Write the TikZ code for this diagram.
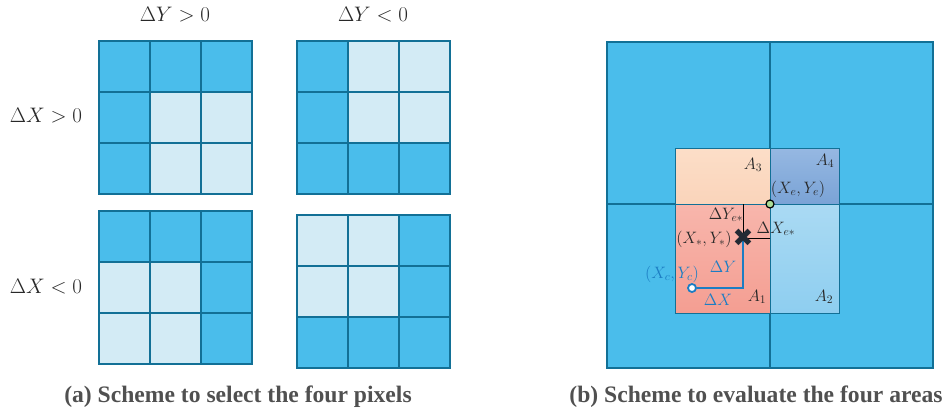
\RequirePackage{fix-cm}
\documentclass[tikz,border=0pt]{standalone}
\usepackage{fontspec}
\setmainfont{Liberation Serif}
\newfontfamily\symfont{DejaVu Sans}
\usetikzlibrary{positioning}

\definecolor{pixdark}{RGB}{74,189,235}
\definecolor{pixlight}{RGB}{211,235,245}
\definecolor{pixline}{RGB}{18,112,150}
\definecolor{labgray}{RGB}{40,40,40}
\definecolor{capgray}{RGB}{80,80,80}
\definecolor{pathblue}{RGB}{28,125,195}

% one 3x3 block of pixels, #1,#2 top left corner
\newcommand{\pixgrid}[3]{%
  \foreach \cl [count=\i from 0] in {#3} {
    \pgfmathtruncatemacro{\cc}{mod(\i,3)}
    \pgfmathtruncatemacro{\rr}{div(\i,3)}
    \filldraw[cell, fill=\cl] ({#1+51*\cc},{#2+51*\rr}) rectangle ++(51,51);
  }
}

\begin{document}
\begin{tikzpicture}[x=1pt, y=-1pt,
    cell/.style={draw=pixline, line width=1.2pt},
    head/.style={font=\fontsize{21}{25}\selectfont, text=labgray},
    lbl/.style={font=\fontsize{16.5}{19}\selectfont, text=labgray, inner sep=0pt},
    bluelbl/.style={lbl, text=pathblue},
    captext/.style={font=\fontsize{23.6}{28}\selectfont\bfseries, text=capgray},
    quad/.style={draw=pixline, line width=1pt}]
  \useasboundingbox (0,0) rectangle (948,418);

  % (a) the four cases
  \pixgrid{99}{41}{pixdark,pixdark,pixdark,pixdark,pixlight,pixlight,pixdark,pixlight,pixlight}
  \pixgrid{297}{41}{pixdark,pixlight,pixlight,pixdark,pixlight,pixlight,pixdark,pixdark,pixdark}
  \pixgrid{99}{211}{pixdark,pixdark,pixdark,pixlight,pixlight,pixdark,pixlight,pixlight,pixdark}
  \pixgrid{297}{215}{pixlight,pixlight,pixdark,pixlight,pixlight,pixdark,pixdark,pixdark,pixdark}

  \node[head] (dyp) at (175,15) {$\Delta Y > 0$};
  \node[head] (dyn) at (373,15) {$\Delta Y < 0$};
  \node[head] (dxp) at (46,116) {$\Delta X > 0$};
  \node[head] (dxn) at (46,287) {$\Delta X < 0$};

  % (b) the four areas
  \filldraw[fill=pixdark, draw=pixline, line width=2.2pt] (607,42) rectangle (933,368);
  \draw[pixline, line width=2.2pt] (770,42) -- (770,368) (607,204) -- (933,204);
  \shade[top color={rgb,255:red,252;green,222;blue,200}, bottom color={rgb,255:red,250;green,212;blue,186}] (675,148) rectangle (770,204);
  \shade[top color={rgb,255:red,150;green,184;blue,226}, bottom color={rgb,255:red,122;green,163;blue,214}] (770,148) rectangle (839,204);
  \shade[top color={rgb,255:red,248;green,182;blue,172}, bottom color={rgb,255:red,244;green,158;blue,146}] (675,204) rectangle (770,313);
  \shade[top color={rgb,255:red,170;green,218;blue,243}, bottom color={rgb,255:red,142;green,206;blue,240}] (770,204) rectangle (839,313);
  \draw[quad] (675,148) rectangle (839,313) (770,148) -- (770,313) (675,204) -- (839,204);

  \node[lbl] (a3) at (753,165) {$A_3$};
  \node[lbl] (a4) at (825,161) {$A_4$};
  \node[lbl] (a1) at (757,297) {$A_1$};
  \node[lbl] (a2) at (824,297) {$A_2$};

  % estimated point and the offsets to the pixel corner
  \coordinate (cor) at (770,204);
  \coordinate (xsp) at (743,238);
  \draw[black, line width=0.8pt] (xsp) -- (xsp |- cor);
  \draw[black, line width=0.8pt] (xsp) -- (cor |- xsp);
  \node[circle, draw=black, fill={rgb,255:red,170;green,220;blue,150}, line width=1.2pt, minimum size=8pt, inner sep=0pt] (pe) at (cor) {};

  \node[circle, draw=pathblue, fill=white, line width=1.8pt, minimum size=8pt, inner sep=0pt] (xc) at (692,288) {};
  \draw[pathblue, line width=2.7pt] (xc) -| (xsp);
  \node[inner sep=0pt, text={rgb,255:red,35;green,42;blue,52}, font=\symfont\fontsize{25}{25}\selectfont] (xs) at (xsp) {✖};

  \node[lbl] (lxe) at (798,189) {$(X_e,Y_e)$};
  \node[lbl] (ldye) at (726,215) {$\Delta Y_{e*}$};
  \node[lbl] (ldxe) at (776,229) {$\Delta X_{e*}$};
  \node[lbl] (lxs) at (704,239) {$(X_*,Y_*)$};
  \node[bluelbl] (ldy) at (723,267) {$\Delta Y$};
  \node[bluelbl] (ldx) at (718,300) {$\Delta X$};
  \node[bluelbl] (lxc) at (672,274) {$(X_c,Y_c)$};

  \node[captext] (capa) at (238,397) {(a) Scheme to select the four pixels};
  \node[captext] (capb) at (756,397) {(b) Scheme to evaluate the four areas};
\end{tikzpicture}
\end{document}
